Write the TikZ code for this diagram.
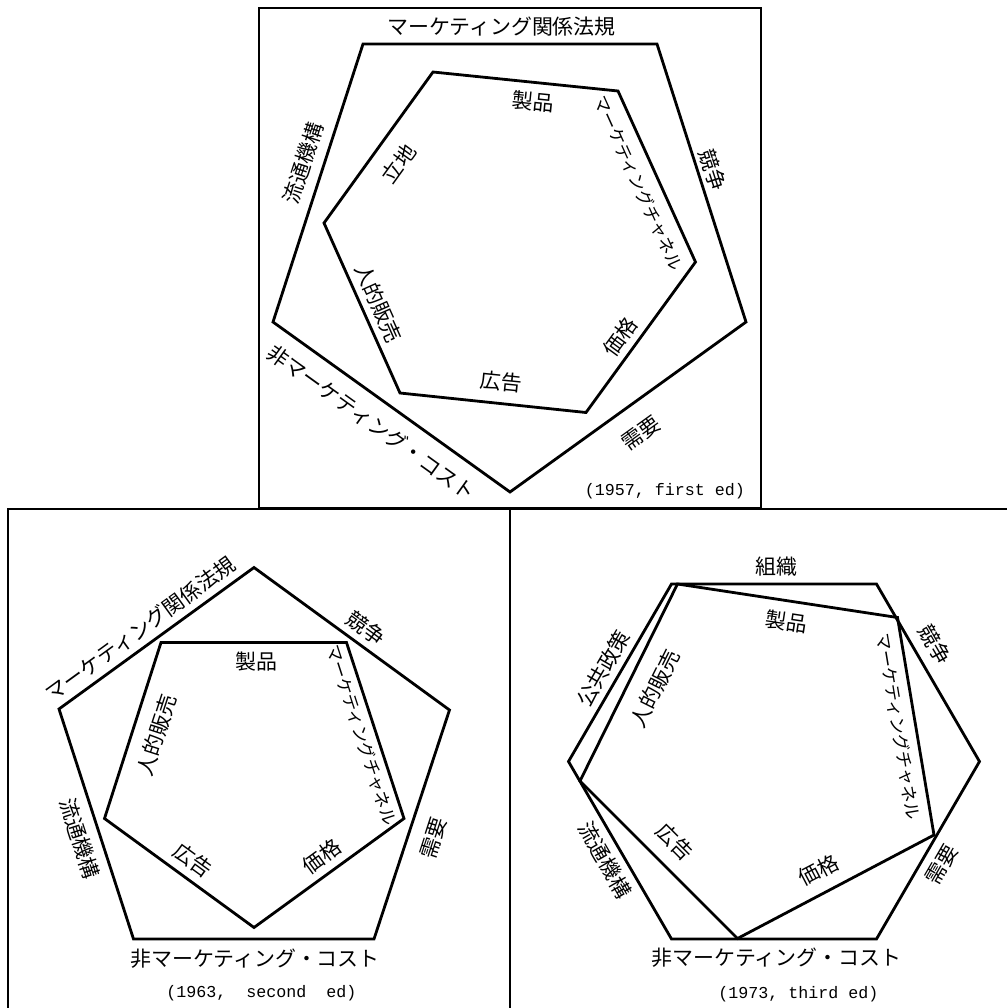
\documentclass[tikz,border=0pt]{standalone}
\usepackage{fontspec}
\newfontfamily\jpfont{Noto Sans CJK JP}
\newfontfamily\edfont{Liberation Mono}
\tikzset{
  lbl/.style={font=\jpfont\fontsize{15.7}{18}\selectfont, inner sep=0pt},
  chn/.style={font=\jpfont\fontsize{13}{15}\selectfont, inner sep=0pt},
  edlbl/.style={font=\edfont\fontsize{12.5}{15}\selectfont, inner sep=0pt},
  polyline/.style={line width=2.1pt, line join=miter},
  framebox/.style={line width=2.1pt}
}
\begin{document}
\begin{tikzpicture}[x=0.75pt, y=-0.75pt]
\useasboundingbox (0,0) rectangle (1007,1008);
\clip (0,0) rectangle (1007,1008);
\fill[white] (0,0) rectangle (1007,1008);

% frames
\draw[framebox] (259,8) rectangle (761,508);
\draw[framebox] (8,509) rectangle (510,1030);
\draw[framebox] (510,509) rectangle (1030,1030);

% ---------- top panel (1957) ----------
\coordinate (tA1) at (363,44);
\coordinate (tA2) at (657,44);
\coordinate (tA3) at (746,322);
\coordinate (tA4) at (510,492);
\coordinate (tA5) at (273,322);
\draw[polyline] (tA1)--(tA2)--(tA3)--(tA4)--(tA5)--cycle;
\coordinate (tB1) at (433,72);
\coordinate (tB2) at (618,91);
\coordinate (tB3) at (695.5,262);
\coordinate (tB4) at (586,412.5);
\coordinate (tB5) at (400,393);
\coordinate (tB6) at (324,223);
\draw[polyline] (tB1)--(tB2)--(tB3)--(tB4)--(tB5)--(tB6)--cycle;

\node[lbl] (t1) at (501.5,26.5) {マーケティング関係法規};
\node[lbl, rotate=72] (t2) at (303,163) {流通機構};
\node[lbl, rotate=-72] (t3) at (713,170) {競争};
\node[lbl, rotate=35.8] (t4) at (641.5,433) {需要};
\node[lbl, rotate=-35.7] (t5) at (371.5,422.5) {非マーケティング・コスト};
\node[lbl, rotate=-5.8] (t6) at (533,101.5) {製品};
\node[chn, rotate=-65.8] (t7) at (638.5,183.5) {マーケティングチャネル};
\node[lbl, rotate=54] (t8) at (620,336.5) {価格};
\node[lbl, rotate=-5.8] (t9) at (501.5,381.5) {広告};
\node[lbl, rotate=-65.9] (t10) at (378.5,303.5) {人的販売};
\node[lbl, rotate=54.2] (t11) at (398.5,163.5) {立地};
\node[edlbl] (t12) at (665,491.5) {(1957, first ed)};

% ---------- bottom-left panel (1963) ----------
\coordinate (lA1) at (254,567.5);
\coordinate (lA2) at (449.5,710);
\coordinate (lA3) at (374,939);
\coordinate (lA4) at (133.5,939);
\coordinate (lA5) at (59,709);
\draw[polyline] (lA1)--(lA2)--(lA3)--(lA4)--(lA5)--cycle;
\coordinate (lB1) at (161,642.5);
\coordinate (lB2) at (346.5,642.5);
\coordinate (lB3) at (404,818.5);
\coordinate (lB4) at (254,927.5);
\coordinate (lB5) at (104.5,818.5);
\draw[polyline] (lB1)--(lB2)--(lB3)--(lB4)--(lB5)--cycle;

\node[lbl, rotate=36] (l1) at (140.5,629) {マーケティング関係法規};
\node[lbl, rotate=-36] (l2) at (366.5,628.5) {競争};
\node[lbl, rotate=72] (l3) at (433.5,838.5) {需要};
\node[lbl, rotate=-72] (l4) at (80,838.5) {流通機構};
\node[lbl] (l5) at (255,959) {非マーケティング・コスト};
\node[edlbl] (l6) at (261.5,993.5) {(1963,\ \ second\ \ ed)};
\node[lbl] (l7) at (256.5,661.5) {製品};
\node[chn, rotate=-72] (l8) at (361.5,735) {マーケティングチャネル};
\node[lbl, rotate=36] (l9) at (321.5,856.5) {価格};
\node[lbl, rotate=-36] (l10) at (193.5,860) {広告};
\node[lbl, rotate=72] (l11) at (156.5,735) {人的販売};

% ---------- bottom-right panel (1973) ----------
\coordinate (rA1) at (671.5,584);
\coordinate (rA2) at (876.5,584);
\coordinate (rA3) at (979.5,761.5);
\coordinate (rA4) at (876.5,939);
\coordinate (rA5) at (671.5,939);
\coordinate (rA6) at (568.5,761.5);
\draw[polyline] (rA1)--(rA2)--(rA3)--(rA4)--(rA5)--(rA6)--cycle;
\coordinate (rB1) at (677.5,584);
\coordinate (rB2) at (897.5,617.5);
\coordinate (rB3) at (934,835);
\coordinate (rB4) at (737.5,938.5);
\coordinate (rB5) at (580,781);
\draw[polyline] (rB1)--(rB2)--(rB3)--(rB4)--(rB5)--cycle;

\node[lbl] (r1) at (776.5,566.5) {組織};
\node[lbl, rotate=-60] (r2) at (935,645) {競争};
\node[lbl, rotate=60] (r3) at (941.5,865) {需要};
\node[lbl] (r4) at (776.5,957.5) {非マーケティング・コスト};
\node[edlbl] (r5) at (798.5,994) {(1973, third ed)};
\node[lbl, rotate=-60] (r6) at (605,860) {流通機構};
\node[lbl, rotate=60] (r7) at (603.5,668.5) {公共政策};
\node[lbl, rotate=-8.6] (r8) at (786.5,621.5) {製品};
\node[chn, rotate=-80.6] (r9) at (898.5,726.5) {マーケティングチャネル};
\node[lbl, rotate=27.6] (r10) at (818.5,870) {価格};
\node[lbl, rotate=-45] (r11) at (675,841.5) {広告};
\node[lbl, rotate=63.6] (r12) at (655,688.5) {人的販売};
\end{tikzpicture}
\end{document}
